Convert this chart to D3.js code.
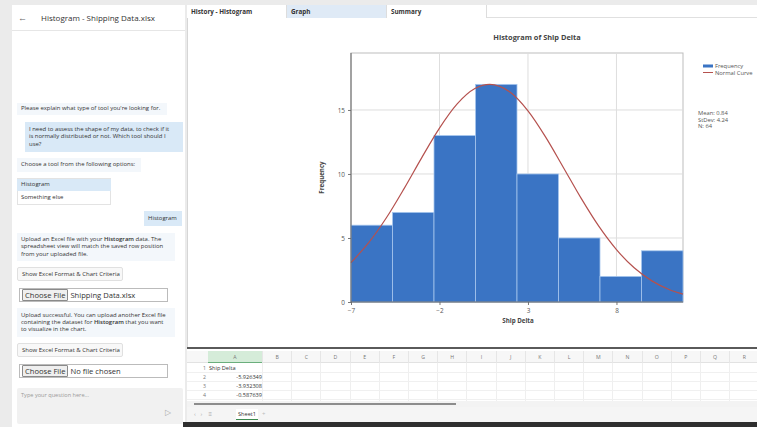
<!DOCTYPE html>
<html>
<head>
<meta charset="utf-8">
<script src="https://cdn.jsdelivr.net/npm/d3@7"></script>
<style>
  body { margin: 0; width: 757px; height: 427px; overflow: hidden; background: #ebebeb;
         font-family: "Open Sans", sans-serif; position: relative; color: #333; }
  .abs { position: absolute; box-sizing: border-box; }
  .msg { font-size: 5.95px; line-height: 7.2px; padding: 0 3px 0 4px; display: flex; align-items: center; white-space: nowrap; }
  .msg b { font-weight: 600; }
  .bot { background: #f3f7fb; }
  .user { background: #d9e9f7; }
  .btn { background: #f8f8f8; border: 1px solid #e0e0e0; border-radius: 2px; font-size: 6px;
         display: flex; align-items: center; padding-left: 4px; }
  .file { border: 1px solid #bbb; background: #fff; font-size: 7.6px; display: flex; align-items: center; }
  .file span.b { background: #efefef; border: 1px solid #8a8a8a; border-radius: 1px; padding: 0 2px;
                 line-height: 10px; margin: 0 2px 0 2px; }
  .tab { font-size: 6.3px; font-weight: bold; display: flex; align-items: center; padding-left: 4px;
         border-right: 1px solid #ddd; color: #333; }
  svg { position: absolute; left: 0; top: 0; }
</style>
</head>
<body>
<div id="page"></div>
<svg id="chart" width="757" height="427"></svg>
<script>
// histogram values
const binEdges = [-7, -4.655, -2.31, 0.035, 2.38, 4.725, 7.07, 9.415, 11.76];
const counts = [6, 7, 13, 17, 10, 5, 2, 4];
// normal curve, read at whole x values
const curveX = [-7, -6, -5, -4, -3, -2, -1, 0, 0.84, 2, 3, 4, 5, 6, 7, 8, 9, 10, 11, 11.76];
const curveY = [3.08, 4.63, 6.58, 8.86, 11.28, 13.58, 15.47, 16.67, 17, 16.38, 14.93, 12.88, 10.51, 8.11, 5.92, 4.09, 2.67, 1.65, 0.96, 0.62];
const xTicks = [-7, -2, 3, 8];
const yTicks = [0, 5, 10, 15];
const legendLabels = ["Frequency", "Normal Curve"];
const statLines = ["Mean: 0.84", "StDev: 4.24", "N: 64"];
const tabLabels = ["History - Histogram", "Graph", "Summary"];
const sheetColumns = ["A","B","C","D","E","F","G","H","I","J","K","L","M","N","O","P","Q","R"];
const sheetCells = ["Ship Delta", "-5.926349", "-3.932308", "-0.587639"];

const page = d3.select("#page");
function box(cls, x, y, w, h, html) {
  return page.append("div").attr("class", "abs " + cls)
    .style("left", x + "px").style("top", y + "px")
    .style("width", w + "px").style("height", h + "px")
    .html(html ? "<span>" + html + "</span>" : "");
}

// left chat panel
box("", 12, 5, 173, 422).style("background", "#fff");
box("", 12, 30, 173, 1).style("background", "#e6e6e6");
box("", 18, 12, 12, 12, "&larr;").style("font-size", "9px").style("color", "#666").style("line-height", "12px");
box("", 41, 12, 142, 12, "Histogram - Shipping Data.xlsx").style("font-size", "8px").style("line-height", "12px").style("color", "#333");

box("msg bot", 17, 103, 150, 12, "Please explain what type of tool you're looking for.");
box("msg user", 25, 122, 158, 30, "I need to assess the shape of my data, to check if it<br>is normally distributed or not. Which tool should I<br>use?");
box("msg bot", 17, 158, 124, 14, "Choose a tool from the following options:");
box("", 17, 178, 94, 27).style("border", "1px solid #e3e3e3").style("background", "#fff");
box("msg user", 17, 179, 94, 12, "Histogram");
box("msg", 17, 192, 94, 12, "Something else");
box("msg user", 144, 211, 38, 15, "Histogram");
box("msg bot", 17, 233, 158, 28, "Upload an Excel file with your <b>Histogram</b> data. The<br>spreadsheet view will match the saved row position<br>from your uploaded file.");
box("btn", 17, 267, 106, 14, "Show Excel Format &amp; Chart Criteria");
box("file", 19, 288, 149, 14, "<span class='b'>Choose File</span>Shipping Data.xlsx");
box("msg bot", 17, 308, 158, 29, "Upload successful. You can upload another Excel file<br>containing the dataset for <b>Histogram</b> that you want<br>to visualize in the chart.");
box("btn", 17, 343, 106, 14, "Show Excel Format &amp; Chart Criteria");
box("file", 19, 364, 149, 14, "<span class='b'>Choose File</span>No file chosen");
box("", 17, 388, 166, 36).style("background", "#f1f1f1").style("border-radius", "2px");
box("", 21, 391, 120, 8, "Type your question here...").style("font-size", "5.6px").style("color", "#999");
box("", 165, 406, 12, 12, "&#9655;").style("font-size", "8px").style("color", "#aaa");

// right area: tabs + chart panel
box("", 187, 18, 570, 330).style("background", "#fff").style("border-left", "1px solid #d6d6d6");
box("", 187, 5, 570, 13).style("background", "#fff").style("border-bottom", "1px solid #e0e0e0");
const tabX = [187, 287, 387];
tabLabels.forEach((t, i) => {
  box("tab", tabX[i], 5, 100, 13, t).style("background", i === 1 ? "#dfeaf6" : "#fff");
});

// spreadsheet
box("", 187, 347, 570, 80).style("background", "#fff").style("border-top", "2px solid #5a5a5a");
box("", 187, 351, 570, 12).style("background", "#f7f7f7").style("border-bottom", "1px solid #e2e2e2");
box("", 208, 351, 55, 12).style("background", "#d5ecd9").style("border-bottom", "1px solid #6aae7c");
sheetColumns.forEach((c, i) => {
  const x0 = 208 + (i === 0 ? 0 : 55 + (i - 1) * 29.2);
  const w = i === 0 ? 55 : 29.2;
  box("", x0, 351, w, 12, c).style("font-size", "5.2px").style("color", "#777")
    .style("text-align", "center").style("line-height", "12px").style("border-right", "1px solid #e6e6e6");
  box("", x0, 363, w, 38).style("border-right", "1px solid #efefef");
});
sheetCells.forEach((v, i) => {
  box("", 188, 364 + i * 9, 18, 9, String(i + 1)).style("font-size", "5.2px").style("color", "#777")
    .style("text-align", "right").style("line-height", "9px");
  box("", 187, 372 + i * 9, 570, 1).style("background", "#f0f0f0");
  box("", 209, 364 + i * 9, 53, 9, v).style("font-size", "5.6px").style("color", "#333")
    .style("text-align", i === 0 ? "left" : "right").style("line-height", "9px");
});
box("", 187, 401, 570, 6).style("background", "#f3f3f3");
box("", 194, 403, 262, 2).style("background", "#8d8d8d");
box("", 187, 407, 570, 15).style("background", "#f5f5f5");
box("", 194, 410, 40, 9, "&lsaquo; &nbsp; &rsaquo; &nbsp;&nbsp; &#8801;").style("font-size", "6px").style("color", "#aaa").style("line-height", "9px");
box("", 236, 409, 22, 11, "Sheet1").style("font-size", "5.6px").style("line-height", "10px")
  .style("text-align", "center").style("border-bottom", "1px solid #3b8a4f").style("background", "#fff");
box("", 262, 410, 8, 9, "+").style("font-size", "6px").style("color", "#bbb").style("line-height", "9px");
box("", 183, 422, 574, 5).style("background", "#2f2f2f");

// chart
const svg = d3.select("#chart");
const plot = { left: 351, right: 683, top: 53, bottom: 302 };
const x = d3.scaleLinear().domain([-7, 11.76]).range([plot.left, plot.right]);
const y = d3.scaleLinear().domain([0, 19.45]).range([plot.bottom, plot.top]);

svg.append("rect").attr("x", plot.left).attr("y", plot.top)
   .attr("width", plot.right - plot.left).attr("height", plot.bottom - plot.top)
   .attr("fill", "#fff").attr("stroke", "#bdbdbd").attr("stroke-width", 1);

svg.append("g").selectAll("line").data(yTicks.slice(1)).enter().append("line")
   .attr("x1", plot.left).attr("x2", plot.right)
   .attr("y1", d => y(d)).attr("y2", d => y(d))
   .attr("stroke", "#dedede").attr("stroke-width", 1);
svg.append("g").selectAll("line").data(xTicks.slice(1)).enter().append("line")
   .attr("y1", plot.top).attr("y2", plot.bottom)
   .attr("x1", d => x(d)).attr("x2", d => x(d))
   .attr("stroke", "#dedede").attr("stroke-width", 1);

svg.append("g").selectAll("rect").data(counts).enter().append("rect")
   .attr("x", (d, i) => x(binEdges[i]))
   .attr("y", d => y(d))
   .attr("width", (d, i) => x(binEdges[i + 1]) - x(binEdges[i]))
   .attr("height", d => plot.bottom - y(d))
   .attr("fill", "#3a74c4")
   .attr("stroke", "#a6c6ee").attr("stroke-width", 0.8);

const line = d3.line().x(d => x(d[0])).y(d => y(d[1])).curve(d3.curveMonotoneX);
svg.append("path").datum(curveX.map((v, i) => [v, curveY[i]]))
   .attr("d", line).attr("fill", "none").attr("stroke", "#b5514e").attr("stroke-width", 1.2);

const xAxis = d3.axisBottom(x).tickValues(xTicks).tickSize(3).tickFormat(d3.format("d"));
const yAxis = d3.axisLeft(y).tickValues(yTicks).tickSize(3).tickFormat(d3.format("d"));
const gx = svg.append("g").attr("transform", "translate(0," + plot.bottom + ")").call(xAxis);
const gy = svg.append("g").attr("transform", "translate(" + plot.left + ",0)").call(yAxis);
[gx, gy].forEach(g => {
  g.select(".domain").remove();
  g.selectAll("line").attr("stroke", "#777");
  g.selectAll("text").attr("font-family", "Open Sans, sans-serif").attr("font-size", 6.4).attr("fill", "#555");
});
svg.append("line").attr("x1", plot.left).attr("x2", plot.right).attr("y1", plot.bottom).attr("y2", plot.bottom)
   .attr("stroke", "#666").attr("stroke-width", 1);
svg.append("line").attr("x1", plot.left).attr("x2", plot.left).attr("y1", plot.top).attr("y2", plot.bottom)
   .attr("stroke", "#666").attr("stroke-width", 1);

svg.append("text").attr("x", 537).attr("y", 40).attr("text-anchor", "middle")
   .attr("font-family", "Open Sans, sans-serif").attr("font-size", 7.4).attr("font-weight", "bold").attr("fill", "#444")
   .text("Histogram of Ship Delta");
svg.append("text").attr("x", 518).attr("y", 323).attr("text-anchor", "middle")
   .attr("font-family", "Open Sans, sans-serif").attr("font-size", 6.2).attr("font-weight", "bold").attr("fill", "#444")
   .text("Ship Delta");
svg.append("text").attr("transform", "translate(324,177.5) rotate(-90)").attr("text-anchor", "middle")
   .attr("font-family", "Open Sans, sans-serif").attr("font-size", 6.2).attr("font-weight", "bold").attr("fill", "#444")
   .text("Frequency");

// legend
const lg = svg.append("g").attr("font-family", "Open Sans, sans-serif").attr("font-size", 5.8).attr("fill", "#555");
lg.append("rect").attr("x", 703).attr("y", 64.5).attr("width", 10).attr("height", 3).attr("fill", "#3a74c4");
lg.append("line").attr("x1", 703).attr("x2", 713).attr("y1", 72.5).attr("y2", 72.5).attr("stroke", "#b5514e").attr("stroke-width", 1);
legendLabels.forEach((t, i) => {
  lg.append("text").attr("x", 715).attr("y", 68 + i * 7).text(t);
});
statLines.forEach((t, i) => {
  lg.append("text").attr("x", 698).attr("y", 115 + i * 6.5).text(t);
});
</script>
</body>
</html>
